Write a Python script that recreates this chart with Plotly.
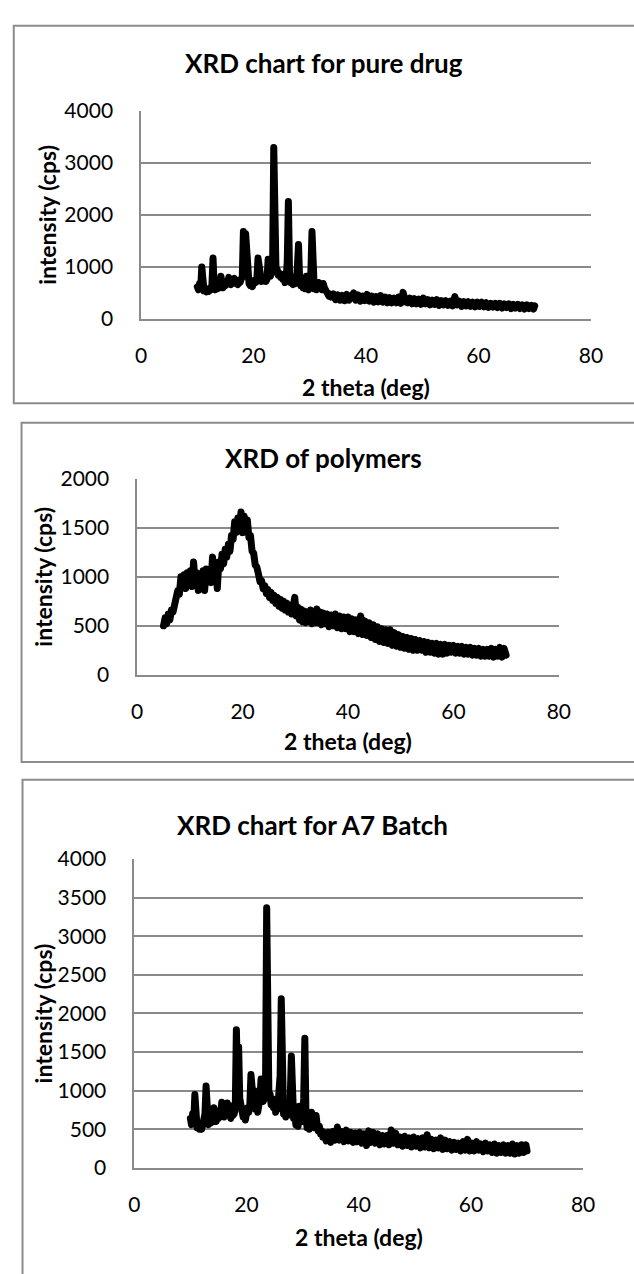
import plotly.graph_objects as go

# ---------------- data ----------------
drug_x = [10.0, 10.2, 10.4, 10.6, 10.8, 11.0, 11.2, 11.4, 11.6, 11.8, 12.0, 12.2, 12.4, 12.6, 12.8, 13.0, 13.2, 13.4, 13.6, 13.8,
          14.0, 14.2, 14.4, 14.6, 14.8, 15.0, 15.2, 15.4, 15.6, 15.8, 16.0, 16.2, 16.4, 16.6, 16.8, 17.0, 17.2, 17.4, 17.6, 17.8,
          18.0, 18.2, 18.4, 18.6, 18.8, 19.0, 19.2, 19.4, 19.6, 19.8, 20.0, 20.2, 20.4, 20.6, 20.8, 21.0, 21.2, 21.4, 21.6, 21.8,
          22.0, 22.2, 22.4, 22.6, 22.8, 23.0, 23.2, 23.4, 23.6, 23.8, 24.0, 24.2, 24.4, 24.6, 24.8, 25.0, 25.2, 25.4, 25.6, 25.8,
          26.0, 26.2, 26.4, 26.6, 26.8, 27.0, 27.2, 27.4, 27.6, 27.8, 28.0, 28.2, 28.4, 28.6, 28.8, 29.0, 29.2, 29.4, 29.6, 29.8,
          30.0, 30.2, 30.4, 30.6, 30.8, 31.0, 31.2, 31.4, 31.6, 31.8, 32.0, 32.2, 32.4, 32.6, 32.8, 33.0, 33.2, 33.4, 33.6, 33.8,
          34.2, 34.6, 35.0, 35.4, 35.8, 36.2, 36.6, 37.0, 37.4, 37.8, 38.2, 38.6, 39.0, 39.4, 39.8, 40.2, 40.6, 41.0, 41.4, 41.8,
          42.2, 42.6, 43.0, 43.4, 43.8, 44.2, 44.6, 45.0, 45.4, 45.8, 46.2, 46.6, 47.0, 47.4, 47.8, 48.2, 48.6, 49.0, 49.4, 49.8,
          50.2, 50.6, 51.0, 51.4, 51.8, 52.2, 52.6, 53.0, 53.4, 53.8, 54.2, 54.6, 55.0, 55.4, 55.8, 56.2, 56.6, 57.0, 57.4, 57.8,
          58.2, 58.6, 59.0, 59.4, 59.8, 60.2, 60.6, 61.0, 61.4, 61.8, 62.2, 62.6, 63.0, 63.4, 63.8, 64.2, 64.6, 65.0, 65.4, 65.8,
          66.2, 66.6, 67.0, 67.4, 67.8, 68.2, 68.6, 69.0, 69.4, 69.8, 70.0]
drug_y = [620, 560, 680, 580, 1000, 620, 540, 580, 520, 560, 530, 590, 560, 640, 1170, 620, 560, 620, 580, 650,
          600, 820, 640, 600, 700, 640, 720, 680, 800, 700, 660, 740, 700, 780, 680, 720, 660, 740, 700, 760,
          800, 1680, 1400, 1640, 1000, 720, 680, 640, 700, 620, 680, 740, 700, 780, 1170, 1000, 760, 720, 780, 740,
          800, 720, 760, 1150, 880, 820, 900, 1100, 3300, 1100, 900, 960, 840, 880, 800, 860, 760, 820, 700, 780,
          1100, 2260, 900, 700, 760, 660, 720, 680, 700, 1000, 1430, 760, 640, 700, 600, 680, 580, 820, 620, 560,
          620, 900, 1680, 700, 580, 640, 560, 600, 700, 600, 640, 560, 680, 600, 520, 560, 480, 440, 480, 420,
          480, 370, 460, 360, 450, 350, 470, 360, 440, 500, 360, 460, 340, 440, 350, 470, 340, 440, 320, 430,
          330, 450, 320, 420, 310, 410, 310, 400, 310, 420, 300, 510, 330, 310, 400, 290, 390, 290, 380, 280,
          400, 290, 370, 270, 360, 280, 370, 260, 350, 270, 350, 260, 340, 250, 430, 270, 340, 240, 330, 250,
          330, 240, 320, 230, 320, 240, 320, 230, 310, 220, 300, 230, 300, 220, 300, 210, 290, 220, 290, 200,
          280, 210, 280, 200, 270, 190, 270, 200, 260, 190, 250]

poly_x = [5.0, 5.3, 5.6, 5.9, 6.2, 6.5, 6.8, 7.1, 7.4, 7.7, 8.0, 8.3, 8.6, 8.9, 9.2, 9.5, 9.8, 10.1, 10.4, 10.7,
          11.0, 11.3, 11.6, 11.9, 12.2, 12.5, 12.8, 13.1, 13.4, 13.7, 14.0, 14.3, 14.6, 14.9, 15.2, 15.5, 15.8, 16.1, 16.4, 16.7,
          17.0, 17.3, 17.6, 17.9, 18.2, 18.5, 18.8, 19.1, 19.4, 19.7, 20.0, 20.3, 20.6, 20.9, 21.2, 21.5, 21.8, 22.1, 22.4, 22.7,
          23.0, 23.3, 23.6, 23.9, 24.2, 24.5, 24.8, 25.1, 25.4, 25.7, 26.0, 26.3, 26.6, 26.9, 27.2, 27.5, 27.8, 28.1, 28.4, 28.7,
          29.0, 29.3, 29.6, 29.9, 30.2, 30.5, 30.8, 31.1, 31.4, 31.7, 32.0, 32.3, 32.6, 32.9, 33.2, 33.5, 33.8, 34.1, 34.4, 34.7,
          35.0, 35.3, 35.6, 36.0, 36.4, 36.8, 37.2, 37.6, 38.0, 38.4, 38.8, 39.2, 39.6, 40.0, 40.4, 40.8, 41.2, 41.6, 42.0, 42.4,
          42.8, 43.2, 43.6, 44.0, 44.4, 44.8, 45.2, 45.6, 46.0, 46.4, 46.8, 47.2, 47.6, 48.0, 48.4, 48.8, 49.2, 49.6, 50.0, 50.4,
          50.8, 51.2, 51.6, 52.0, 52.4, 52.8, 53.2, 53.6, 54.0, 54.4, 54.8, 55.2, 55.6, 56.0, 56.4, 56.8, 57.2, 57.6, 58.0, 58.4,
          58.8, 59.2, 59.6, 60.0, 60.4, 60.8, 61.2, 61.6, 62.0, 62.4, 62.8, 63.2, 63.6, 64.0, 64.4, 64.8, 65.2, 65.6, 66.0, 66.4,
          66.8, 67.2, 67.6, 68.0, 68.4, 68.8, 69.2, 69.6, 70.0]
poly_y = [500, 580, 520, 620, 560, 660, 640, 740, 760, 860, 820, 1000, 900, 1020, 880, 1040, 920, 1060, 900, 1150,
          940, 1040, 860, 1020, 920, 1060, 860, 1080, 960, 1060, 940, 1200, 1000, 1100, 880, 1150, 1080, 1230, 1130, 1280,
          1200, 1330, 1260, 1420, 1380, 1560, 1450, 1600, 1480, 1660, 1450, 1620, 1500, 1580, 1400, 1420, 1260, 1240, 1120, 1100,
          1030, 950, 960, 880, 910, 830, 870, 790, 840, 760, 810, 730, 790, 700, 770, 680, 750, 660, 730, 640,
          710, 620, 700, 790, 600, 690, 560, 670, 540, 650, 530, 640, 540, 660, 520, 640, 530, 670, 530, 640,
          510, 630, 520, 620, 490, 610, 500, 620, 480, 600, 470, 590, 470, 590, 440, 570, 440, 560, 420, 600,
          410, 550, 400, 530, 380, 510, 360, 490, 340, 470, 330, 460, 320, 460, 300, 430, 290, 410, 280, 390,
          270, 380, 260, 370, 250, 360, 250, 350, 250, 340, 230, 330, 230, 320, 220, 320, 210, 310, 210, 310,
          220, 300, 230, 300, 220, 290, 220, 290, 210, 280, 210, 280, 200, 270, 200, 270, 190, 260, 190, 260,
          190, 270, 180, 260, 190, 280, 180, 270, 200]

a7_x = drug_x
a7_y = [640, 560, 700, 600, 950, 620, 520, 560, 500, 540, 500, 560, 600, 700, 1060, 640, 560, 620, 580, 640,
        600, 780, 640, 600, 700, 640, 740, 700, 850, 720, 660, 760, 700, 840, 700, 760, 640, 800, 680, 700,
        760, 1790, 1200, 1570, 900, 760, 700, 660, 720, 620, 700, 780, 720, 820, 1210, 1000, 880, 1000, 760, 820,
        720, 800, 900, 1150, 900, 860, 920, 1100, 3370, 1000, 900, 960, 820, 900, 780, 860, 720, 800, 760, 1000,
        1200, 2190, 900, 700, 800, 660, 760, 680, 780, 900, 1450, 800, 640, 720, 560, 700, 540, 800, 620, 760,
        600, 900, 1680, 700, 520, 600, 500, 560, 720, 560, 600, 520, 680, 560, 480, 540, 440, 480, 400, 460,
        350, 460, 330, 470, 360, 530, 360, 470, 340, 490, 350, 460, 330, 450, 340, 460, 320, 440, 290, 480,
        330, 460, 320, 440, 300, 420, 310, 420, 300, 490, 320, 450, 300, 400, 280, 410, 290, 390, 270, 400,
        280, 380, 260, 390, 270, 430, 260, 370, 250, 360, 260, 390, 240, 360, 250, 340, 230, 330, 240, 320,
        220, 340, 230, 370, 220, 320, 220, 340, 230, 310, 210, 320, 220, 300, 200, 310, 190, 290, 200, 300,
        190, 290, 190, 310, 180, 290, 190, 300, 200, 300, 220]

titles = ["XRD chart for pure drug", "XRD of polymers", "XRD chart for A7 Batch"]
y_title = "intensity (cps)"
x_title = "2 theta (deg)"
x_ticks = [0, 20, 40, 60, 80]
y_ticks_1 = [0, 1000, 2000, 3000, 4000]
y_ticks_2 = [0, 500, 1000, 1500, 2000]
y_ticks_3 = [0, 500, 1000, 1500, 2000, 2500, 3000, 3500, 4000]

for name, xs, ys in [("drug", drug_x, drug_y), ("poly", poly_x, poly_y), ("a7", a7_x, a7_y)]:
    if len(xs) != len(ys):
        print("length mismatch", name, len(xs), len(ys))

# ---------------- layout helpers ----------------
W, H = 634, 1274
def px(x):
    return x / W
def py(y):
    return 1 - y / H

FONT = "Lato, Calibri, Arial, sans-serif"
GRID = "#8a8a8a"
TICK_SIZE = 21

# plot areas in pixels: (left, right, top, bottom)
areas = [(139, 602, 99, 311), (135, 569, 474, 674), (132, 594, 862, 1177)]
yranges = [(0, 4000, y_ticks_1), (0, 2000, y_ticks_2), (0, 4000, y_ticks_3)]
series = [(drug_x, drug_y), (poly_x, poly_y), (a7_x, a7_y)]
title_pos = [(327, 50), (327, 453), (315, 827)]
xtitle_y = [380, 742, 1247]
ytitle_x = [42, 38, 39]
borders = [(8, 12, 700, 397), (16, 417, 700, 763), (17, 781, 700, 1320)]

fig = go.Figure()
layout = dict(
    width=W, height=H,
    margin=dict(l=0, r=0, t=0, b=0),
    paper_bgcolor="white", plot_bgcolor="white",
    showlegend=False,
    font=dict(family=FONT, color="black", size=TICK_SIZE),
)
annotations = []
shapes = []
for i in range(3):
    n = "" if i == 0 else str(i + 1)
    l, r, t, b = areas[i]
    y0, y1, yt = yranges[i]
    xs, ys = series[i]
    fig.add_trace(go.Scatter(x=xs, y=ys, mode="lines",
                             line=dict(color="black", width=7),
                             xaxis="x" + n, yaxis="y" + n))
    layout["xaxis" + n] = dict(
        domain=[px(l), px(r)], anchor="y" + n, range=[0, 80],
        tickvals=x_ticks, showgrid=False, zeroline=False,
        showline=True, linecolor=GRID, linewidth=1.5,
        ticks="outside", ticklen=17, tickcolor="rgba(0,0,0,0)",
        tickfont=dict(family=FONT, size=TICK_SIZE, color="black"),
    )
    layout["yaxis" + n] = dict(
        domain=[py(b), py(t)], anchor="x" + n, range=[y0, y1],
        tickvals=yt, showgrid=True, gridcolor=GRID, gridwidth=1.5,
        zeroline=False, showline=True, linecolor=GRID, linewidth=1.5,
        ticks="outside", ticklen=22, tickcolor="rgba(0,0,0,0)",
        tickfont=dict(family=FONT, size=TICK_SIZE, color="black"),
    )
    annotations.append(dict(text="<b>" + titles[i] + "</b>", x=px(title_pos[i][0]), y=py(title_pos[i][1]),
                            xref="paper", yref="paper", xanchor="center", yanchor="middle",
                            showarrow=False, font=dict(family=FONT, size=26, color="black")))
    annotations.append(dict(text="<b>" + x_title + "</b>", x=px((l + r) / 2), y=py(xtitle_y[i]),
                            xref="paper", yref="paper", xanchor="center", yanchor="middle",
                            showarrow=False, font=dict(family=FONT, size=23, color="black")))
    annotations.append(dict(text="<b>" + y_title + "</b>", x=px(ytitle_x[i]), y=py((t + b) / 2),
                            xref="paper", yref="paper", xanchor="center", yanchor="middle",
                            textangle=-90, showarrow=False, font=dict(family=FONT, size=23, color="black")))
    bx0, by0, bx1, by1 = borders[i]
    shapes.append(dict(type="rect", xref="paper", yref="paper",
                       x0=px(bx0), x1=px(bx1), y0=py(by0), y1=py(by1),
                       line=dict(color="#8c8c8c", width=2), fillcolor="rgba(0,0,0,0)", layer="below"))

layout["annotations"] = annotations
layout["shapes"] = shapes
fig.update_layout(**layout)

# round line joins/caps so the noisy trace looks like a solid band (as in the original Excel chart)
post = ("var s=document.createElement('style');"
        "s.innerHTML='.scatterlayer .js-line{stroke-linejoin:round !important;stroke-linecap:round !important;}';"
        "document.head.appendChild(s);")
fig.write_html("out.html", post_script=post)
